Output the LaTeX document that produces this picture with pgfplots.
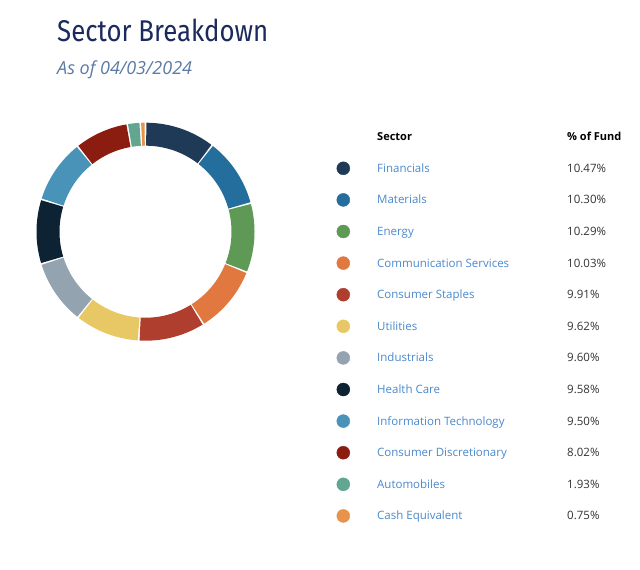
\documentclass[border=0pt]{standalone}
\usepackage{pgfplots}
\pgfplotsset{compat=1.18}
\usepackage{pgfplotstable}
\usepackage{fontspec}
\setmainfont{Open Sans}
\newfontfamily\titlefont[FakeStretch=0.86]{Fira Sans}
\definecolor{cFin}{HTML}{1F3A56}
\definecolor{cMat}{HTML}{236E9C}
\definecolor{cEne}{HTML}{5E9A55}
\definecolor{cCom}{HTML}{E07840}
\definecolor{cSta}{HTML}{B03E2E}
\definecolor{cUti}{HTML}{E8C865}
\definecolor{cInd}{HTML}{93A3B0}
\definecolor{cHea}{HTML}{0D2233}
\definecolor{cIT}{HTML}{4A93B8}
\definecolor{cDis}{HTML}{8A1D10}
\definecolor{cAut}{HTML}{62A590}
\definecolor{cCas}{HTML}{E8924A}
\definecolor{titlec}{HTML}{1B2A5C}
\definecolor{subc}{HTML}{5B7AA5}
\definecolor{labc}{HTML}{4A88CC}
\definecolor{valc}{HTML}{333333}
% cumulative start and end (percent of fund), clockwise from the top
\newcommand{\slice}[3]{%
  \pgfmathsetmacro{\angA}{90-3.6*(#3)+0.45}%
  \pgfmathsetmacro{\angB}{90-3.6*(#2)-0.45}%
  \addplot[draw=#1, line width=23bp, domain=\angA:\angB, samples=40, no marks, line cap=butt]
    ({145.5+97.5*cos(x)},{231.7-97.5*sin(x)});
}
\newcommand{\row}[4]{% index, color, name, value
  \pgfmathsetmacro{\yy}{168.3+31.6*#1}%
  \addplot[only marks, mark=*, mark size=6.5bp, color=#2, mark options={draw=#2, fill=#2}] coordinates {(343.3,\yy)};
  \node[anchor=base west, text=labc, font=\fontsize{11.5bp}{13bp}\selectfont, inner sep=0pt] at (axis cs:377,{172.3+31.6*#1}) {#3};
  \node[anchor=base west, text=valc, font=\fontsize{11.5bp}{13bp}\selectfont, inner sep=0pt] at (axis cs:567,{172.3+31.6*#1}) {#4};
}
\begin{document}
\begin{tikzpicture}
\begin{axis}[
  width=640bp, height=569bp, scale only axis,
  xmin=0, xmax=640, ymin=0, ymax=569, y dir=reverse,
  hide axis, clip=false]
\path (axis cs:0,0) rectangle (axis cs:640,569);
% donut slices
\slice{cFin}{0}{10.47}
\slice{cMat}{10.47}{20.77}
\slice{cEne}{20.77}{31.06}
\slice{cCom}{31.06}{41.09}
\slice{cSta}{41.09}{51.00}
\slice{cUti}{51.00}{60.62}
\slice{cInd}{60.62}{70.22}
\slice{cHea}{70.22}{79.80}
\slice{cIT}{79.80}{89.30}
\slice{cDis}{89.30}{97.32}
\slice{cAut}{97.32}{99.25}
\slice{cCas}{99.25}{100}
% titles
\node[anchor=base west, text=titlec, inner sep=0pt, font=\titlefont\fontsize{30bp}{34bp}\selectfont] at (axis cs:57,41.7) {Sector Breakdown};
\node[anchor=base west, text=subc, inner sep=0pt, font=\fontsize{18bp}{20bp}\selectfont\itshape] at (axis cs:57,74) {As of 04/03/2024};
% table header
\node[anchor=base west, text=black, inner sep=0pt, font=\fontsize{11bp}{13bp}\selectfont\bfseries] at (axis cs:377,140.7) {Sector};
\node[anchor=base west, text=black, inner sep=0pt, font=\fontsize{11bp}{13bp}\selectfont\bfseries] at (axis cs:567,140.7) {\% of Fund};
% rows
\row{0}{cFin}{Financials}{10.47\%}
\row{1}{cMat}{Materials}{10.30\%}
\row{2}{cEne}{Energy}{10.29\%}
\row{3}{cCom}{Communication Services}{10.03\%}
\row{4}{cSta}{Consumer Staples}{9.91\%}
\row{5}{cUti}{Utilities}{9.62\%}
\row{6}{cInd}{Industrials}{9.60\%}
\row{7}{cHea}{Health Care}{9.58\%}
\row{8}{cIT}{Information Technology}{9.50\%}
\row{9}{cDis}{Consumer Discretionary}{8.02\%}
\row{10}{cAut}{Automobiles}{1.93\%}
\row{11}{cCas}{Cash Equivalent}{0.75\%}
\end{axis}
\end{tikzpicture}
\end{document}
